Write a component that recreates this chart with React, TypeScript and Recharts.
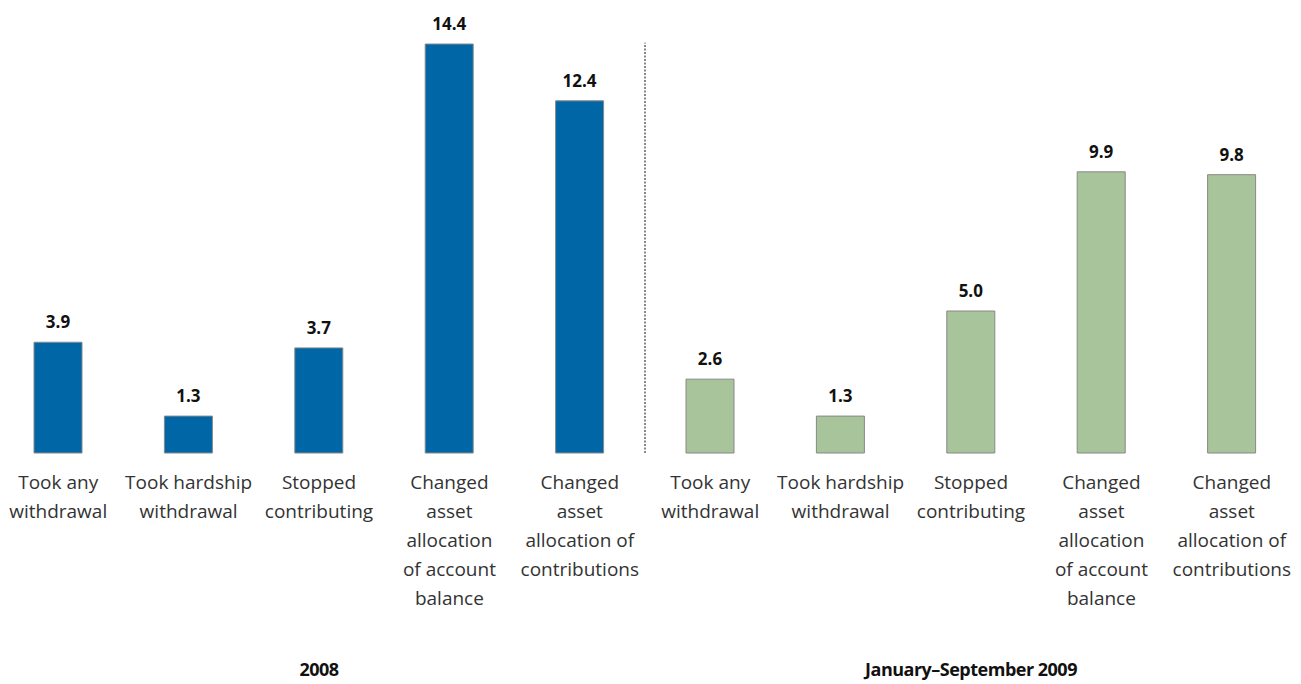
import React from "react";
import { BarChart, Bar, XAxis, YAxis, Cell, LabelList, ReferenceLine } from "recharts";

const categories: string[][] = [
  ["Took any", "withdrawal"],
  ["Took hardship", "withdrawal"],
  ["Stopped", "contributing"],
  ["Changed", "asset", "allocation", "of account", "balance"],
  ["Changed", "asset", "allocation of", "contributions"],
  ["Took any", "withdrawal"],
  ["Took hardship", "withdrawal"],
  ["Stopped", "contributing"],
  ["Changed", "asset", "allocation", "of account", "balance"],
  ["Changed", "asset", "allocation of", "contributions"],
];
const values2008 = [3.9, 1.3, 3.7, 14.4, 12.4];
const values2009 = [2.6, 1.3, 5.0, 9.9, 9.8];
const groupLabels = ["2008", "January\u2013September 2009"];
const groupOf = [0, 0, 0, 0, 0, 1, 1, 1, 1, 1];
const groupLabelAt: Record<number, number> = { 2: 0, 7: 1 };
const colors = ["#0066A6", "#A8C49A"];

const data = [...values2008, ...values2009].map((v, i) => ({ idx: i, value: v, group: groupOf[i] }));

const FONT = "'Open Sans', 'Noto Sans', sans-serif";

const Tick = (props: any) => {
  const { x, y, payload } = props;
  const i = Math.round(payload.value);
  const lines = categories[i] || [];
  const g = groupLabelAt[i];
  return (
    <g>
      {lines.map((l, k) => (
        <text key={k} x={x} y={y + 36 + k * 29} textAnchor="middle" fontFamily={FONT} fontSize={19} fill="#333" fontWeight={400}>
          {l}
        </text>
      ))}
      {g !== undefined && (
        <text x={x} y={y + 223} textAnchor="middle" fontFamily={FONT} fontSize={18} fontWeight={700} fill="#111" letterSpacing={-0.5}>
          {groupLabels[g]}
        </text>
      )}
    </g>
  );
};

export default function App() {
  return (
    <div style={{ position: "absolute", left: -7.5, top: 0, width: 1308, height: 684, background: "#fff" }}>
      <BarChart width={1304} height={684} data={data} margin={{ top: 27, right: 0, bottom: 0, left: 0 }}>
        <XAxis
          dataKey="idx"
          type="number"
          domain={[-0.5, 9.5]}
          ticks={[0, 1, 2, 3, 4, 5, 6, 7, 8, 9]}
          interval={0}
          axisLine={false}
          tickLine={false}
          tickSize={0}
          tickMargin={0}
          height={231}
          tick={<Tick />}
        />
        <YAxis hide domain={[0, 15]} />
        <ReferenceLine
          segment={[{ x: 4.5, y: 0 }, { x: 4.5, y: 14.45 }]}
          stroke="#111"
          strokeDasharray="2 1.5"
          strokeWidth={1}
        />
        <Bar dataKey="value" barSize={48} stroke="#888" strokeWidth={1} isAnimationActive={false}>
          {data.map((d, i) => (
            <Cell key={i} fill={colors[d.group]} />
          ))}
          <LabelList
            dataKey="value"
            position="top"
            offset={14}
            formatter={(v: any) => Number(v).toFixed(1)}
            style={{ fontFamily: FONT, fontSize: 17, fontWeight: 700, fill: "#111" }}
          />
        </Bar>
      </BarChart>
    </div>
  );
}
